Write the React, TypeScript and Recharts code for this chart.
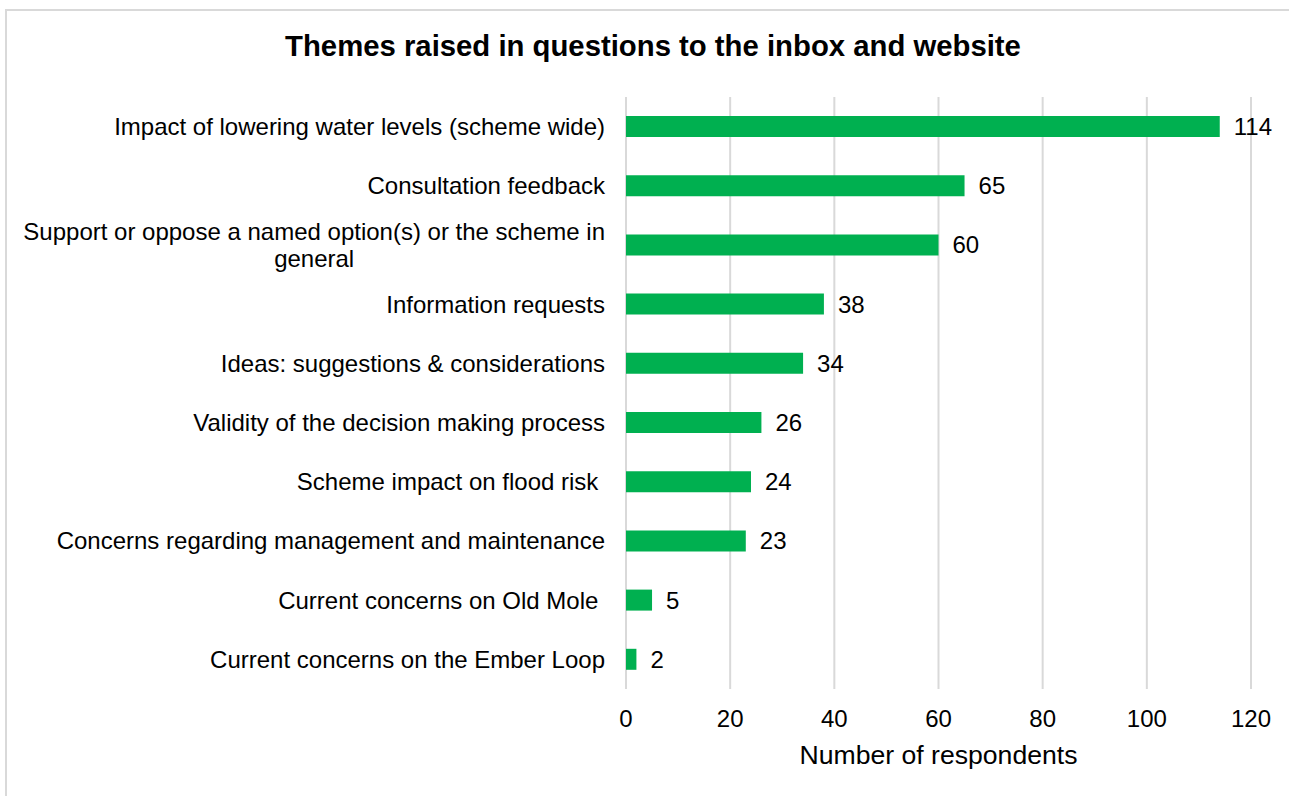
import React from 'react';
import { Bar, BarChart, CartesianGrid, LabelList, XAxis, YAxis } from 'recharts';

const themes = [
  'Impact of lowering water levels (scheme wide)',
  'Consultation feedback',
  'Support or oppose a named option(s) or the scheme in\ngeneral',
  'Information requests',
  'Ideas: suggestions & considerations',
  'Validity of the decision making process',
  'Scheme impact on flood risk ',
  'Concerns regarding management and maintenance',
  'Current concerns on Old Mole ',
  'Current concerns on the Ember Loop',
];
const respondents = [114, 65, 60, 38, 34, 26, 24, 23, 5, 2];
const xTicks = [0, 20, 40, 60, 80, 100, 120];

const chartTitle = 'Themes raised in questions to the inbox and website';
const xTitle = 'Number of respondents';

const data = themes.map((theme, i) => ({ theme, value: respondents[i] }));

const FONT = '"Liberation Sans", Arial, sans-serif';
const LABEL_SIZE = 24;

let measureCtx: CanvasRenderingContext2D | null = null;
const textWidth = (s: string, size: number) => {
  if (!measureCtx) measureCtx = document.createElement('canvas').getContext('2d');
  if (!measureCtx) return s.length * size * 0.5;
  measureCtx.font = `${size}px "Liberation Sans"`;
  return measureCtx.measureText(s).width;
};

// category tick: right aligned, long labels wrap and centre like Excel does
const ThemeTick = ({ x, y, payload }: any) => {
  const lines: string[] = String(payload.value).split('\n');
  const lineH = 27;
  if (lines.length === 1) {
    return (
      <text x={x} y={y} dy="0.35em" textAnchor="end" fontSize={LABEL_SIZE} fontFamily={FONT} fill="#000" style={{ whiteSpace: 'pre' }}>
        {lines[0]}
      </text>
    );
  }
  const maxW = Math.max(...lines.map((l) => textWidth(l, LABEL_SIZE)));
  const cx = x - maxW / 2;
  return (
    <text textAnchor="middle" fontSize={LABEL_SIZE} fontFamily={FONT} fill="#000">
      {lines.map((l, i) => (
        <tspan key={i} x={cx} y={y + (i - (lines.length - 1) / 2) * lineH} dy="0.35em">
          {l}
        </tspan>
      ))}
    </text>
  );
};

export default function App() {
  return (
    <div style={{ position: 'absolute', left: 0, top: 0, width: 1289, height: 796, overflow: 'hidden', background: '#fff' }}>
      <div
        style={{
          position: 'absolute',
          left: 5,
          top: 9,
          width: 1320,
          height: 820,
          border: '2px solid #d9d9d9',
          boxSizing: 'border-box',
        }}
      />
      <div
        style={{
          position: 'absolute',
          left: 0,
          width: 1306,
          top: 29,
          lineHeight: '34px',
          textAlign: 'center',
          fontFamily: FONT,
          fontWeight: 'bold',
          fontSize: 29.3,
          color: '#000',
          whiteSpace: 'nowrap',
        }}
      >
        {chartTitle}
      </div>
      <div style={{ position: 'absolute', left: 0, top: 0 }}>
        <BarChart
          width={1289}
          height={796}
          data={data}
          layout="vertical"
          margin={{ top: 97, right: 38, bottom: 0, left: 0 }}
          barCategoryGap={0}
        >
          <CartesianGrid horizontal={false} stroke="#d9d9d9" strokeWidth={2} />
          <XAxis
            type="number"
            domain={[0, 120]}
            ticks={xTicks}
            axisLine={false}
            tickLine={false}
            tickMargin={15}
            height={107}
            tick={{ fill: '#000', fontSize: LABEL_SIZE, fontFamily: FONT }}
            label={{ value: xTitle, position: 'insideBottom', offset: 32, fill: '#000', fontSize: 26.6, fontFamily: FONT }}
          />
          <YAxis
            type="category"
            dataKey="theme"
            width={626}
            axisLine={false}
            tickLine={false}
            tickMargin={15}
            interval={0}
            tick={<ThemeTick />}
          />
          <Bar dataKey="value" fill="#00b050" barSize={21} isAnimationActive={false}>
            <LabelList dataKey="value" position="right" offset={14} fill="#000" fontSize={LABEL_SIZE} fontFamily={FONT} />
          </Bar>
        </BarChart>
      </div>
    </div>
  );
}
